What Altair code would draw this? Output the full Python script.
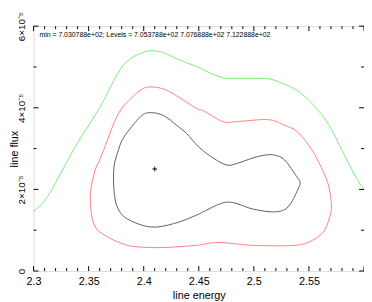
import altair as alt
import pandas as pd

# ---- data (x in keV, y in units of 1e-5) ----
green_x = [2.300, 2.311, 2.325, 2.336, 2.360, 2.382, 2.397, 2.407, 2.418, 2.430, 2.448, 2.468,
           2.477, 2.510, 2.526, 2.540, 2.553, 2.570, 2.580, 2.594, 2.600]
green_y = [1.46, 1.76, 2.41, 2.96, 4.00, 5.06, 5.33, 5.40, 5.35, 5.20, 5.01, 4.77,
           4.72, 4.72, 4.60, 4.41, 4.10, 3.49, 2.96, 2.24, 2.00]

red_x = [2.406, 2.418, 2.430, 2.448, 2.454, 2.472, 2.484, 2.513, 2.528, 2.540, 2.553, 2.561,
         2.567, 2.570, 2.570, 2.564, 2.553, 2.537, 2.499, 2.468, 2.448, 2.421, 2.403, 2.385,
         2.367, 2.356, 2.352, 2.352, 2.356, 2.360, 2.367, 2.374, 2.382, 2.397]
red_y = [4.51, 4.46, 4.29, 3.98, 3.93, 3.66, 3.66, 3.71, 3.57, 3.40, 2.96, 2.55,
         2.17, 1.76, 1.45, 0.99, 0.75, 0.63, 0.63, 0.70, 0.63, 0.58, 0.58, 0.63,
         0.84, 1.08, 1.52, 2.00, 2.48, 2.72, 3.20, 3.69, 4.05, 4.43]

black_x = [2.406, 2.418, 2.430, 2.439, 2.450, 2.463, 2.475, 2.484, 2.499, 2.510, 2.519, 2.528,
           2.539, 2.542, 2.540, 2.531, 2.519, 2.499, 2.476, 2.454, 2.448, 2.427, 2.406, 2.385,
           2.376, 2.373, 2.373, 2.377, 2.382, 2.397]
black_y = [3.88, 3.81, 3.57, 3.37, 3.04, 2.77, 2.60, 2.63, 2.77, 2.84, 2.84, 2.72,
           2.31, 2.17, 2.00, 1.57, 1.45, 1.52, 1.69, 1.45, 1.37, 1.16, 1.08, 1.28,
           1.57, 2.00, 2.55, 2.96, 3.28, 3.78]

best_x = [2.41]
best_y = [2.50]

x_major = [2.30, 2.35, 2.40, 2.45, 2.50, 2.55, 2.60]
x_minor = [2.31, 2.32, 2.33, 2.34, 2.36, 2.37, 2.38, 2.39, 2.41, 2.42, 2.43, 2.44,
           2.46, 2.47, 2.48, 2.49, 2.51, 2.52, 2.53, 2.54, 2.56, 2.57, 2.58, 2.59]
x_labels = [2.30, 2.35, 2.40, 2.45, 2.50, 2.55]
y_major = [0, 2, 4, 6]
y_minor = [1, 3, 5]

note = "min = 7.030788e+02; Levels =  7.053788e+02 7.076888e+02 7.122888e+02"

W, H = 336, 249
FONT = "Liberation Sans"

xscale = alt.Scale(domain=[2.3, 2.6], nice=False, zero=False)
yscale = alt.Scale(domain=[0, 6], nice=False, zero=False)
xaxis = alt.Axis(values=x_labels, format=".3~f", title="line energy", grid=False,
                 ticks=False, domain=False, labelFont=FONT, labelFontSize=11,
                 labelColor="black", labelPadding=5, titleFont=FONT, titleFontSize=11,
                 titleFontWeight="normal", titleColor="black", titlePadding=3,
                 labelFlush=False, labelOverlap=False)
yaxis = alt.Axis(values=y_major, title="line flux", grid=False, ticks=False, domain=False,
                 labelExpr="datum.value == 0 ? '0' : format(datum.value, 'd') + '×10⁻⁵'",
                 labelAngle=-90, labelAlign="center", labelBaseline="bottom",
                 labelFont=FONT, labelFontSize=10, labelColor="black", labelPadding=7,
                 titleFont=FONT, titleFontSize=11, titleFontWeight="normal",
                 titleColor="black", titleAngle=-90, titleAlign="center",
                 titleBaseline="middle", titleX=-19, titleY=H / 2,
                 labelFlush=False, labelOverlap=False)

X = alt.X("x:Q", scale=xscale, axis=xaxis)
Y = alt.Y("y:Q", scale=yscale, axis=yaxis)


def curve_df(xs, ys):
    return pd.DataFrame({"x": xs, "y": ys, "i": list(range(len(xs)))})


green = alt.Chart(curve_df(green_x, green_y)).mark_line(
    strokeWidth=1, color="#77ee77", interpolate="monotone").encode(x=X, y=Y, order="i:Q")
red = alt.Chart(curve_df(red_x, red_y)).mark_line(
    strokeWidth=1, color="#ff7f7f", interpolate="cardinal-closed").encode(x=X, y=Y, order="i:Q")
black = alt.Chart(curve_df(black_x, black_y)).mark_line(
    strokeWidth=1, color="#606060", interpolate="cardinal-closed").encode(x=X, y=Y, order="i:Q")

best = alt.Chart(pd.DataFrame({"x": best_x, "y": best_y})).mark_point(
    shape="M-1,0L1,0M0,-1L0,1", size=22, filled=False, stroke="black", strokeWidth=1, opacity=1
).encode(x=X, y=Y)


def xticks(vals, length):
    df = pd.DataFrame({"x": vals})
    bot = alt.Chart(df).mark_rule(color="black", strokeWidth=1).encode(
        x=X, y=alt.value(H), y2=alt.value(H - length))
    top = alt.Chart(df).mark_rule(color="black", strokeWidth=1).encode(
        x=X, y=alt.value(0), y2=alt.value(length))
    return [bot, top]


def yticks(vals, length):
    df = pd.DataFrame({"y": vals})
    left = alt.Chart(df).mark_rule(color="black", strokeWidth=1).encode(
        y=Y, x=alt.value(0), x2=alt.value(length))
    right = alt.Chart(df).mark_rule(color="black", strokeWidth=1).encode(
        y=Y, x=alt.value(W), x2=alt.value(W - length))
    return [left, right]


text = alt.Chart(pd.DataFrame({"t": [note]})).mark_text(
    align="left", baseline="middle", font=FONT, fontSize=7, color="black"
).encode(x=alt.value(6), y=alt.value(9), text="t:N")

layers = [green, red, black, best] + xticks(x_major, 5) + xticks(x_minor, 3) \
    + yticks(y_major, 5) + yticks(y_minor, 3) + [text]

chart = alt.layer(*layers).properties(
    width=W, height=H,
    autosize=alt.AutoSizeParams(type="none"),
    padding={"left": 26, "top": 16, "right": 0, "bottom": 29},
).configure_view(stroke="black", strokeWidth=1).configure(background="white")

chart.save("out.html", embed_options={"renderer": "svg", "actions": False})
